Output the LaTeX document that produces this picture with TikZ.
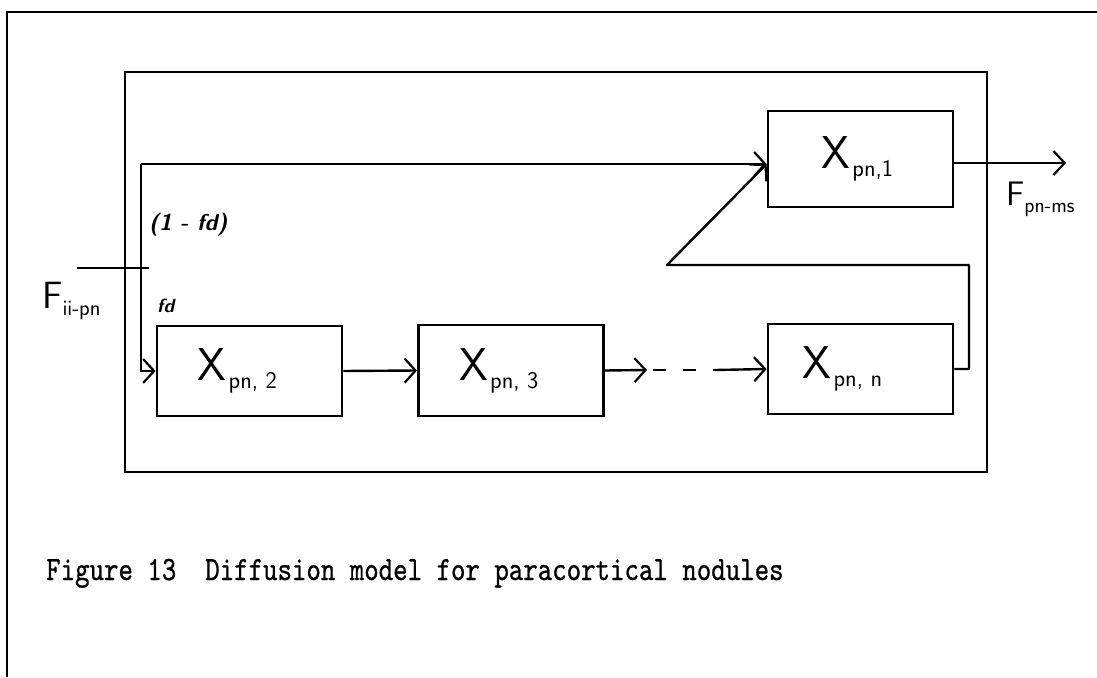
\documentclass[tikz,border=0pt]{standalone}
\usepackage{fontspec}
\newfontfamily\capfont{lmmono10-regular.otf}[FakeStretch=0.81,FakeBold=0.7]
\usetikzlibrary{arrows.meta}

% X with a lowered index, as written in each compartment
\newcommand{\blocklabel}[1]{{\fontsize{46}{46}\selectfont X}\hspace{2pt}\raisebox{-8pt}{\fontsize{24}{24}\selectfont #1}}
% F with a lowered flow index
\newcommand{\flowlabel}[3]{{\fontsize{#1}{#1}\selectfont F}\raisebox{-7pt}{\fontsize{#2}{#2}\selectfont #3}}

\tikzset{
  frame/.style={line width=2.6pt},
  block/.style={draw, line width=2.8pt, minimum width=185pt, inner sep=0pt,
                font=\sffamily},
  flow/.style={line width=2.4pt},
  flowarrow/.style={flow, -{Straight Barb[length=11pt,width=24pt,line width=2.2pt]}},
  hand/.style={font=\sffamily, inner sep=0pt},
}

\begin{document}
\begin{tikzpicture}[x=1pt,y=-1pt]
  \useasboundingbox (0,0) rectangle (1097,677);

  % sheet border (left and top edges) and the node boundary
  \draw[frame] (7,677) -- (7,12) -- (1097,12);
  \draw[frame] (125,72) rectangle (987,472);

  % compartments
  \node[block, minimum height=96pt] (b1) at (860.5,159) {\hspace*{-6pt}\blocklabel{pn,1}};
  \node[block, minimum height=90pt] (b2) at (249.5,371) {\hspace*{-24pt}\blocklabel{pn, 2}};
  \node[block, minimum height=91pt] (b3) at (511,370.5) {\hspace*{-24pt}\blocklabel{pn, 3}};
  \node[block, minimum height=90pt] (bn) at (860.5,369) {\hspace*{-36pt}\blocklabel{pn, n}};

  % junction points of the connectors
  \coordinate (inL)   at (77,268);
  \coordinate (inR)   at (149,268);
  \coordinate (split) at (141,164);
  \coordinate (d1)    at (647,370);
  \coordinate (d2)    at (715,370);
  \coordinate (fbR)   at (969,265);
  \coordinate (fbL)   at (667,265);
  \coordinate (out)   at (1066,163);

  % input and its split into the two paths
  \draw[flow] (inL) -- (inR);
  \draw[flowarrow] (split) -- (b1.west |- split);
  \draw[flowarrow] (split) -- (split |- b2.west) -- (b2.west);

  % chain of compartments
  \draw[flowarrow] (b2.east) -- (b3.west);
  \draw[flowarrow] (b3.east) -- (d1);
  \draw[flow, dash pattern=on 13pt off 17pt] (d1) ++(6,0) -- (d2);
  \draw[flowarrow] (d2) -- (bn.west);

  % return from the last compartment to the first
  \draw[flowarrow, line join=round] (bn.east) -- (bn.east -| fbR) -- (fbR) -- (fbL) -- (b1.west |- split);

  % output
  \draw[flowarrow] (b1.east |- out) -- (out);

  % labels
  \node[hand, anchor=north west] (fin) at (42,282) {\flowlabel{38}{22}{ii-pn}};
  \node[hand, anchor=north west] (fout) at (1006,182) {\flowlabel{34}{21}{pn-ms}};
  \node[hand, anchor=west, font=\sffamily\bfseries\itshape\fontsize{23}{23}\selectfont] (frac1) at (149,225) {(1 - fd)};
  \node[hand, anchor=west, font=\sffamily\bfseries\itshape\fontsize{19}{19}\selectfont] (frac2) at (157,306) {fd};

  % caption
  \node[anchor=base west, inner sep=0pt, font=\capfont\fontsize{34}{34}\selectfont] (cap) at (46,580)
    {Figure 13\ \ Diffusion model for paracortical nodules};
\end{tikzpicture}
\end{document}
